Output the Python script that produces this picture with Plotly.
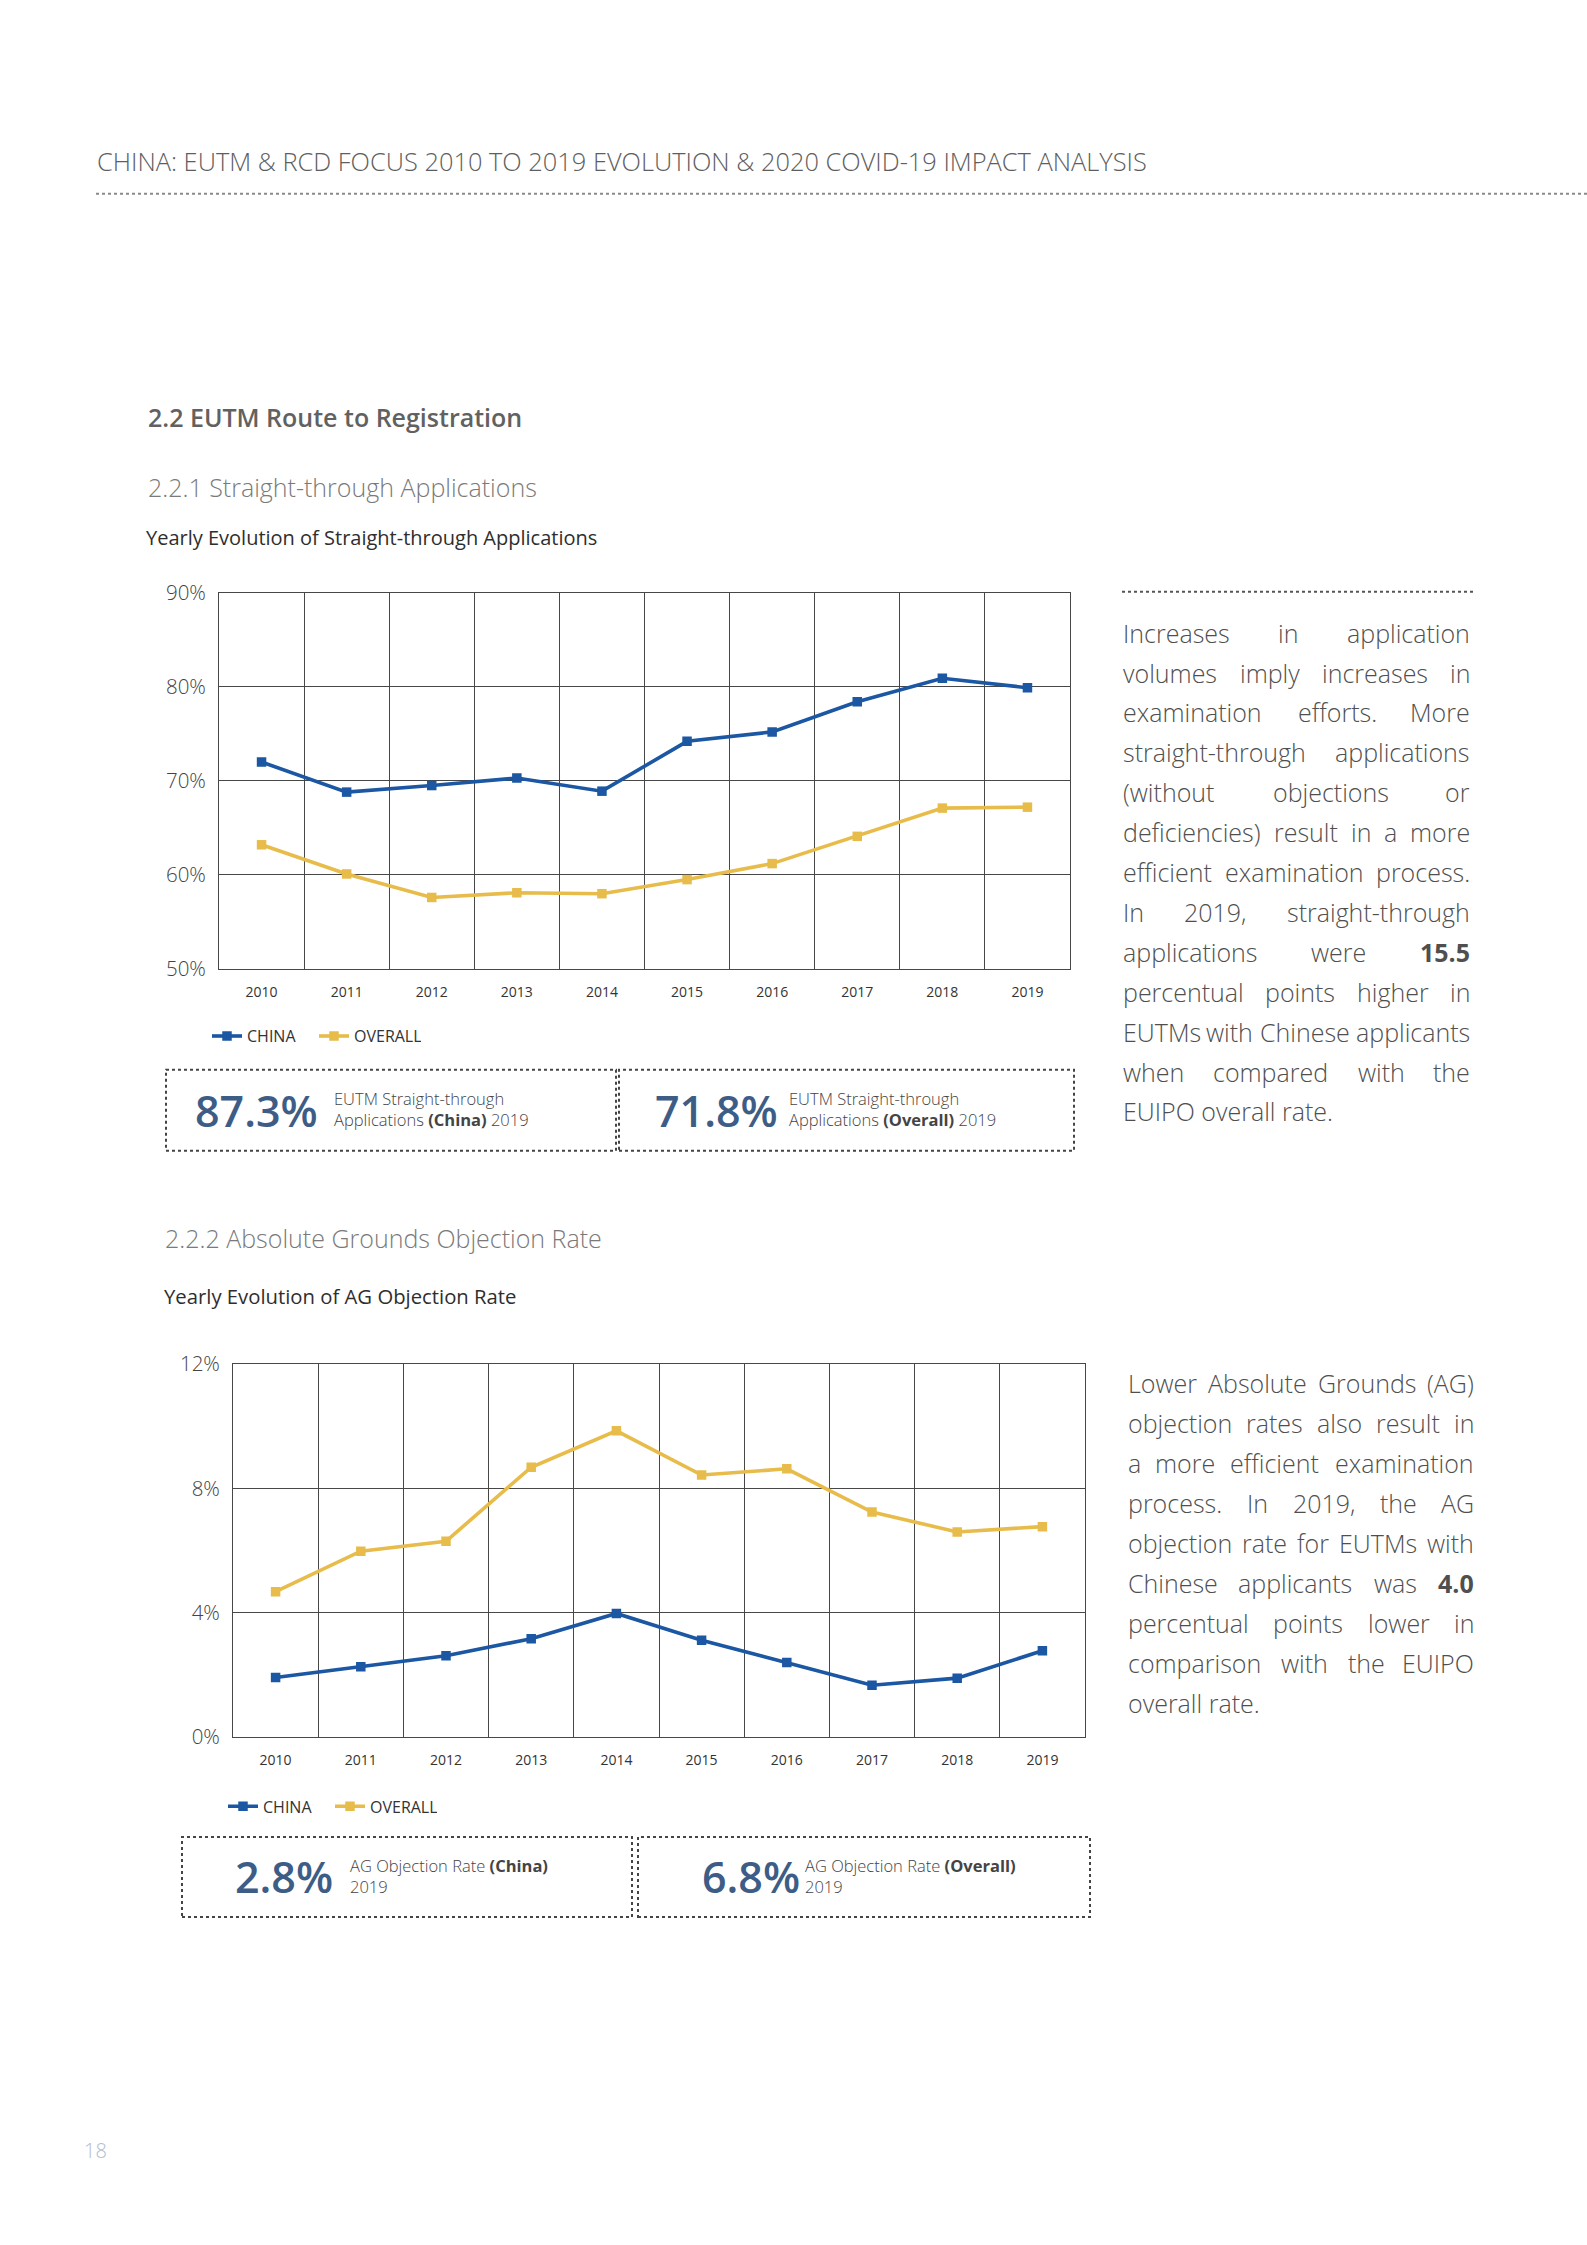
import plotly.graph_objects as go

# ---------------- data ----------------
years = ["2010", "2011", "2012", "2013", "2014", "2015", "2016", "2017", "2018", "2019"]
series_names = ["CHINA", "OVERALL"]

st_china = [72.0, 68.8, 69.5, 70.3, 68.9, 74.2, 75.2, 78.4, 80.9, 79.9]
st_overall = [63.2, 60.1, 57.6, 58.1, 58.0, 59.5, 61.2, 64.1, 67.1, 67.2]
st_ticks = [50, 60, 70, 80, 90]
st_tick_labels = ["50%", "60%", "70%", "80%", "90%"]

ag_china = [1.92, 2.27, 2.62, 3.17, 3.98, 3.12, 2.40, 1.67, 1.90, 2.78]
ag_overall = [4.68, 5.98, 6.30, 8.68, 9.85, 8.43, 8.63, 7.24, 6.60, 6.77]
ag_ticks = [0, 4, 8, 12]
ag_tick_labels = ["0%", "4%", "8%", "12%"]

st_kpi_values = ["87.3%", "71.8%"]
st_kpi_groups = ["(China)", "(Overall)"]
ag_kpi_values = ["2.8%", "6.8%"]
ag_kpi_groups = ["(China)", "(Overall)"]

para1 = [
    "Increases in application",
    "volumes imply increases in",
    "examination efforts. More",
    "straight-through applications",
    "(without objections or",
    "deficiencies) result in a more",
    "efficient examination process.",
    "In 2019, straight-through",
    "applications were <b>15.5</b>",
    "percentual points higher in",
    "EUTMs with Chinese applicants",
    "when compared with the",
    "EUIPO overall rate.",
]
para2 = [
    "Lower Absolute Grounds (AG)",
    "objection rates also result in",
    "a more efficient examination",
    "process. In 2019, the AG",
    "objection rate for EUTMs with",
    "Chinese applicants was <b>4.0</b>",
    "percentual points lower in",
    "comparison with the EUIPO",
    "overall rate.",
]

# ---------------- style ----------------
W, H = 1587, 2245
BLUE = "#1b57a2"
GOLD = "#e8bc4a"
KPI = "#3d5d87"
GRID = "#474747"
FONT = "Open Sans"


def px(x):
    return x / W


def py(y):
    return 1 - y / H


fig = go.Figure()

# chart 1
fig.add_trace(go.Scatter(x=years, y=st_china, name=series_names[0], mode="lines+markers",
                         line=dict(color=BLUE, width=3.6), marker=dict(symbol="square", size=9.5, color=BLUE),
                         xaxis="x", yaxis="y", legend="legend"))
fig.add_trace(go.Scatter(x=years, y=st_overall, name=series_names[1], mode="lines+markers",
                         line=dict(color=GOLD, width=3.6), marker=dict(symbol="square", size=9.5, color=GOLD),
                         xaxis="x", yaxis="y", legend="legend"))
# chart 2
fig.add_trace(go.Scatter(x=years, y=ag_china, name=series_names[0], mode="lines+markers",
                         line=dict(color=BLUE, width=3.6), marker=dict(symbol="square", size=9.5, color=BLUE),
                         xaxis="x2", yaxis="y2", legend="legend2"))
fig.add_trace(go.Scatter(x=years, y=ag_overall, name=series_names[1], mode="lines+markers",
                         line=dict(color=GOLD, width=3.6), marker=dict(symbol="square", size=9.5, color=GOLD),
                         xaxis="x2", yaxis="y2", legend="legend2"))

xaxis_common = dict(type="category", tickson="boundaries", showgrid=True, gridcolor=GRID, gridwidth=1,
                    showline=True, mirror=True, linecolor=GRID, linewidth=1, ticks="", zeroline=False,
                    tickfont=dict(family=FONT, size=14, color="#333"), ticklabelstandoff=10,
                    range=[-0.5, 9.5], fixedrange=True)
yaxis_common = dict(showgrid=True, gridcolor=GRID, gridwidth=1, showline=True, mirror=True,
                    linecolor=GRID, linewidth=1, ticks="", zeroline=False,
                    tickfont=dict(family=FONT, size=20.5, color="#444", weight=300), ticklabelstandoff=8,
                    fixedrange=True)

legend_common = dict(orientation="h", xanchor="left", yanchor="middle", bgcolor="rgba(0,0,0,0)",
                     font=dict(family=FONT, size=16, color="#333"), itemwidth=30,
                     entrywidth=62, entrywidthmode="pixels", itemclick=False)

fig.update_layout(
    width=W, height=H, margin=dict(l=0, r=0, t=0, b=0, pad=0),
    paper_bgcolor="white", plot_bgcolor="white", showlegend=True,
    xaxis=dict(domain=[px(219), px(1070)], anchor="y", **xaxis_common),
    yaxis=dict(domain=[py(966), py(585)], anchor="x", range=[50, 90], tickvals=st_ticks,
               ticktext=st_tick_labels, **yaxis_common),
    xaxis2=dict(domain=[px(233), px(1085)], anchor="y2", **xaxis_common),
    yaxis2=dict(domain=[py(1744), py(1366)], anchor="x2", range=[0, 12], tickvals=ag_ticks,
                ticktext=ag_tick_labels, **yaxis_common),
    legend=dict(x=px(207), y=py(1034), **legend_common),
    legend2=dict(x=px(223), y=py(1814), **legend_common),
)

ann = []
shapes = []


def text(x, y, s, size, color, weight=400, xanchor="left", yanchor="middle"):
    ann.append(dict(x=px(x), y=py(y), xref="paper", yref="paper", text=s, showarrow=False,
                    xanchor=xanchor, yanchor=yanchor, align="left", borderpad=0,
                    font=dict(family=FONT, size=size, color=color, weight=weight)))


# header
text(96, 148, "CHINA: EUTM &amp; RCD FOCUS 2010 TO 2019 EVOLUTION &amp; 2020 COVID-19 IMPACT ANALYSIS",
     25.4, "#5e5e5e", 300)
shapes.append(dict(type="line", xref="paper", yref="paper", x0=px(96), x1=px(1587), y0=py(181), y1=py(181),
                   line=dict(color="#8a8a8a", width=2, dash="dot")))

# section titles
text(147, 407, "2.2 EUTM Route to Registration", 25, "#616161", 600)
text(147, 478, "2.2.1 Straight-through Applications", 25, "#7a7a7a", 300)
text(145, 529, "Yearly Evolution of Straight-through Applications", 20, "#2e2e2e", 400)
text(164, 1238, "2.2.2 Absolute Grounds Objection Rate", 25, "#7a7a7a", 300)
text(163, 1297, "Yearly Evolution of AG Objection Rate", 20.3, "#2e2e2e", 400)

# page number
text(83, 2162, "18", 20, "#b4bccb", 300)


# KPI boxes
def kpi_box(x0, x1, y0, y1, num_x, txt_x, value, line1, line2):
    shapes.append(dict(type="rect", xref="paper", yref="paper", x0=px(x0), x1=px(x1), y0=py(y1), y1=py(y0),
                       line=dict(color="#444", width=2, dash="dot")))
    yc = (y0 + y1) / 2
    text(num_x, yc, value, 43, KPI, 600)
    text(txt_x, yc - 1, line1 + "<br>" + line2, 16.5, "#444", 300)


kpi_box(166, 616, 1068, 1150, 194, 333, st_kpi_values[0], "EUTM Straight-through",
        "Applications <b>" + st_kpi_groups[0] + "</b> 2019")
kpi_box(619, 1074, 1068, 1150, 654, 788, st_kpi_values[1], "EUTM Straight-through",
        "Applications <b>" + st_kpi_groups[1] + "</b> 2019")
kpi_box(182, 632, 1845, 1926, 234, 349, ag_kpi_values[0], "AG Objection Rate <b>" + ag_kpi_groups[0] + "</b>",
        "2019")
kpi_box(638, 1090, 1845, 1926, 701, 804, ag_kpi_values[1], "AG Objection Rate <b>" + ag_kpi_groups[1] + "</b>",
        "2019")

# right column
shapes.append(dict(type="line", xref="paper", yref="paper", x0=px(1122), x1=px(1473), y0=py(584), y1=py(584),
                   line=dict(color="#555", width=2, dash="dot")))

CW = {' ': 532, 'a': 1139, 'b': 1255, 'c': 975, 'd': 1255, 'e': 1149, 'f': 694, 'g': 1122, 'h': 1257,
      'i': 518, 'j': 518, 'k': 1075, 'l': 518, 'm': 1905, 'n': 1257, 'o': 1237, 'p': 1255, 'q': 1255,
      'r': 836, 's': 977, 't': 723, 'u': 1257, 'v': 1026, 'w': 1593, 'x': 1073, 'y': 1028, 'z': 977,
      'A': 1296, 'B': 1327, 'C': 1292, 'D': 1493, 'E': 1124, 'F': 1061, 'G': 1491, 'H': 1511, 'I': 571,
      'J': 547, 'K': 1257, 'L': 1087, 'M': 1849, 'N': 1583, 'O': 1599, 'P': 1239, 'Q': 1599, 'R': 1268,
      'S': 1104, 'T': 1102, 'U': 1509, 'V': 1229, 'W': 1896, 'X': 1200, 'Y': 1165, 'Z': 1125,
      '.': 545, ',': 500, '(': 578, ')': 578, '-': 659}


def word_w(w, size):
    bold = w.startswith("<b>")
    s = w.replace("<b>", "").replace("</b>", "")
    f = 1.06 if bold else 0.97
    return sum(CW.get(c, 1171) for c in s) / 2048 * size * f


def justified(lines, left, right, top, step, size, color):
    for i, line in enumerate(lines):
        y = top + i * step
        words = line.split(" ")
        if i == len(lines) - 1 or len(words) == 1:
            text(left, y, line, size, color, 300)
            continue
        widths = [word_w(w, size) for w in words]
        gap = (right - left - sum(widths)) / (len(words) - 1)
        xcur = left
        for j, w in enumerate(words):
            if j == 0:
                text(left, y, w, size, color, 300, "left")
            elif j == len(words) - 1:
                text(right, y, w, size, color, 300, "right")
            else:
                text(xcur + widths[j] / 2, y, w, size, color, 300, "center")
            xcur += widths[j] + gap


justified(para1, 1122, 1471, 625.5, 40.4, 25, "#4f4f4f")
justified(para2, 1127, 1475, 1385, 40.5, 25, "#4f4f4f")

fig.update_layout(annotations=ann, shapes=shapes)

fig.write_html("out.html", config={"displayModeBar": False},
               post_script="document.body.style.margin='0';document.body.style.overflow='hidden';")
